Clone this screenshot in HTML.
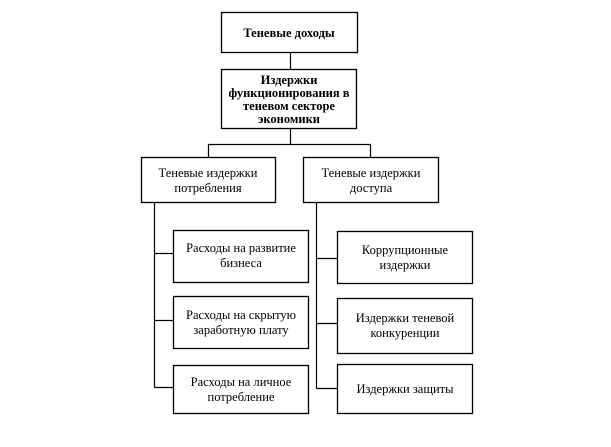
<!DOCTYPE html>
<html><head><meta charset="utf-8"><style>
html,body{margin:0;padding:0;background:#fff;width:611px;height:447px;overflow:hidden}
svg{display:block}
text{font-family:"Liberation Serif",serif;font-size:12.5px;fill:#000;text-anchor:middle}
.b{font-weight:bold;font-size:12.5px}
</style></head><body>
<svg width="611" height="447" xmlns="http://www.w3.org/2000/svg">
<g fill="#fff" stroke="#000" stroke-width="1.3">
<rect x="221.5" y="12.5" width="136" height="40"/>
<rect x="221.5" y="69.5" width="135" height="59"/>
<rect x="141.5" y="157.5" width="134" height="45"/>
<rect x="303.5" y="157.5" width="135" height="45"/>
<rect x="173.5" y="230.5" width="135" height="52"/>
<rect x="173.5" y="296.5" width="135" height="52"/>
<rect x="173.5" y="365.5" width="135" height="48"/>
<rect x="337.5" y="231.5" width="135" height="52"/>
<rect x="337.5" y="298.5" width="135" height="55"/>
<rect x="337.5" y="364.5" width="135" height="49"/>
</g>
<g stroke="#000" stroke-width="1.2" fill="none">
<path d="M290.5 52.5V69.5M290.5 128.5V144.5M208.5 157V144.5H370.5V157"/>
<path d="M154.5 202.5V387.5M154.5 253.5H173.5M154.5 320.5H173.5M154.5 387.5H173.5"/>
<path d="M316.5 202.5V388.5M316.5 258.5H337.5M316.5 323.5H337.5M316.5 388.5H337.5"/>
</g>
<text class="b" x="289" y="37">Теневые  доходы</text>
<text class="b" x="289" y="84">Издержки</text>
<text class="b" x="289" y="97">функционирования  в</text>
<text class="b" x="289" y="110">теневом  секторе</text>
<text class="b" x="289" y="123">экономики</text>
<text x="208" y="177">Теневые издержки</text>
<text x="208" y="192">потребления</text>
<text x="371" y="177">Теневые издержки</text>
<text x="371" y="192">доступа</text>
<text x="241" y="252">Расходы  на развитие</text>
<text x="241" y="267">бизнеса</text>
<text x="241" y="319">Расходы  на скрытую</text>
<text x="241" y="334">заработную плату</text>
<text x="241" y="386">Расходы  на личное</text>
<text x="241" y="401">потребление</text>
<text x="405" y="254">Коррупционные</text>
<text x="405" y="269">издержки</text>
<text x="405" y="322">Издержки  теневой</text>
<text x="405" y="337">конкуренции</text>
<text x="405" y="393">Издержки  защиты</text>
</svg>
</body></html>
